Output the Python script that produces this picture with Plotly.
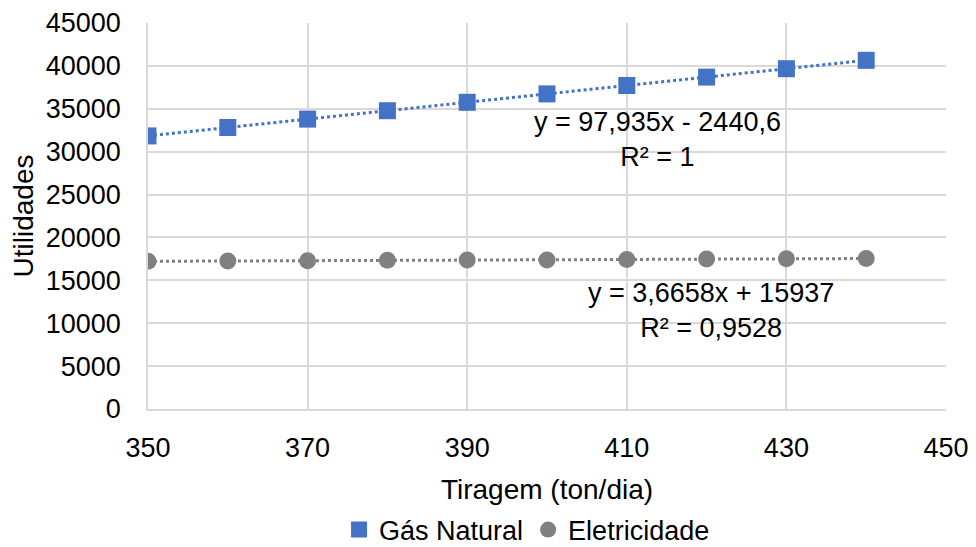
import numpy as np
import plotly.graph_objects as go

tiragem = [350, 360, 370, 380, 390, 400, 410, 420, 430, 440]
gas_natural = [31837, 32816, 33796, 34775, 35754, 36734, 37713, 38693, 39672, 40651]
eletricidade = [17220, 17250, 17290, 17330, 17370, 17380, 17430, 17475, 17510, 17540]

AZUL = "#4472C4"
CINZA = "#808080"
FONTE = "Liberation Sans, Arial, sans-serif"
TAM = 27


def linha_tendencia(x, y):
    a, b = np.polyfit(x, y, 1)
    xs = np.array([min(x), max(x)])
    return xs, a * xs + b


fig = go.Figure()

# linhas de tendencia pontilhadas
for ys, cor in [(gas_natural, AZUL), (eletricidade, CINZA)]:
    tx, ty = linha_tendencia(tiragem, ys)
    fig.add_trace(go.Scatter(
        x=tx, y=ty, mode="lines", showlegend=False, hoverinfo="skip",
        line=dict(color=cor, width=3, dash="dot"),
    ))

fig.add_trace(go.Scatter(
    x=tiragem, y=gas_natural, mode="markers", name="Gás Natural",
    marker=dict(symbol="square", size=17, color=AZUL),
))
fig.add_trace(go.Scatter(
    x=tiragem, y=eletricidade, mode="markers", name="Eletricidade",
    marker=dict(symbol="circle", size=17, color=CINZA),
))

fig.add_annotation(x=413.8, y=31400, text="y = 97,935x - 2440,6<br>R² = 1",
                   showarrow=False, align="center", font=dict(size=TAM, color="#000000"))
fig.add_annotation(x=420.5, y=11540, text="y = 3,6658x + 15937<br>R² = 0,9528",
                   showarrow=False, align="center", font=dict(size=TAM, color="#000000"))

eixo = dict(
    showgrid=True, gridcolor="#d9d9d9", gridwidth=1.5,
    showline=True, linecolor="#d9d9d9", linewidth=1.5,
    zeroline=False, ticks="", automargin=False, tickformat="d",
    tickfont=dict(size=TAM, color="#000000"),
)

# a pagina tem margem de 8px no body; a figura passa um pouco da janela
fig.update_layout(
    width=968, height=570,
    margin=dict(l=140, r=30, t=15, b=169),
    paper_bgcolor="white", plot_bgcolor="white",
    font=dict(family=FONTE, size=TAM, color="#000000"),
    showlegend=True,
    legend=dict(
        orientation="h", x=0.475, xanchor="center", y=-0.3135, yanchor="middle",
        font=dict(size=TAM), itemwidth=30, tracegroupgap=0,
    ),
    xaxis=dict(
        eixo, range=[350, 450], dtick=20, tick0=350, ticklabelstandoff=14,
        title=dict(text="Tiragem (ton/dia)", standoff=17, font=dict(size=28)),
    ),
    yaxis=dict(
        eixo, range=[0, 45000], dtick=5000, ticklabelstandoff=20,
        title=dict(text="Utilidades", standoff=8, font=dict(size=28)),
    ),
)

fig.write_html("out.html")
